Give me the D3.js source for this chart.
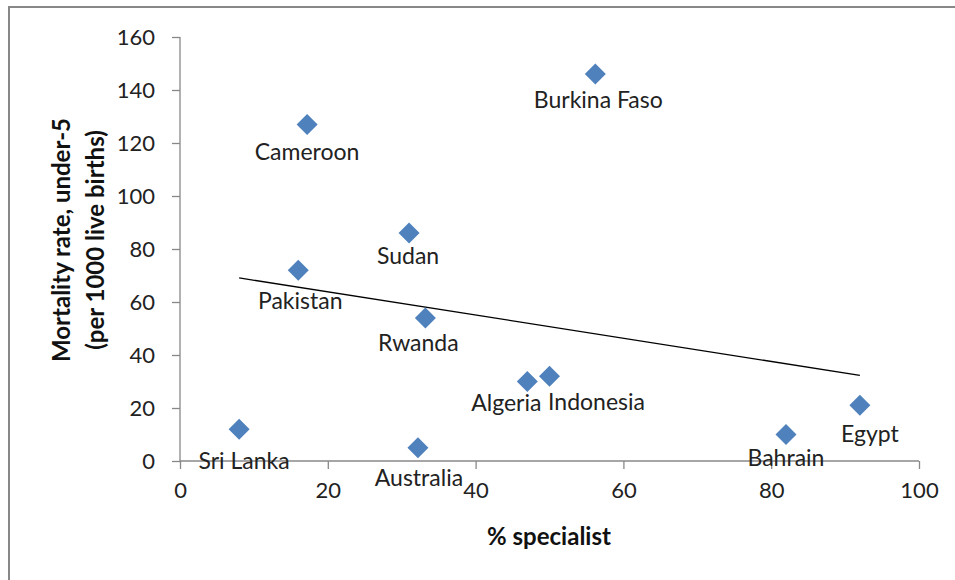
<!DOCTYPE html>
<html><head><meta charset="utf-8">
<script src="https://cdn.jsdelivr.net/npm/d3@7"></script>
<style>body{margin:0;background:#fff}svg{display:block}</style>
</head><body><svg id="c" width="955" height="580"></svg>
<script>
const countries = ["Sri Lanka","Pakistan","Cameroon","Sudan","Rwanda","Australia","Algeria","Indonesia","Burkina Faso","Bahrain","Egypt"];
const specialist = [8,16,17.2,31,33.2,32.2,47,50,56.2,82,92];
const mortality = [12,72,127,86,54,5,30,32,146,10,21];
const labelDx = [5,2,0,-1,-7,1,-21,47,3,0,10];
const labelDy = [32,31,27,23,25,30,21,26,26,23,29];
const xTicks = [0,20,40,60,80,100];
const yTicks = [0,20,40,60,80,100,120,140,160];

const svg = d3.select("#c");
const font = "Lato, 'Open Sans', sans-serif";
svg.append("rect").attr("x",9).attr("y",7).attr("width",960).attr("height",590)
  .attr("fill","#fff").attr("stroke","#888").attr("stroke-width",2);

const x = d3.scaleLinear().domain([0,100]).range([180,919]);
const y = d3.scaleLinear().domain([0,160]).range([461,37]);

const xa = svg.append("g").attr("transform","translate(0,461)")
  .call(d3.axisBottom(x).tickValues(xTicks).tickSize(8).tickPadding(13));
const ya = svg.append("g").attr("transform","translate(180,0)")
  .call(d3.axisLeft(y).tickValues(yTicks).tickSize(8).tickPadding(17));
[xa,ya].forEach(a=>{
  a.select(".domain").attr("stroke","#888").attr("stroke-width",1.3);
  a.selectAll(".tick line").attr("stroke","#888").attr("stroke-width",1.3);
  a.selectAll("text").attr("font-family",font).attr("font-size",22).attr("fill","#222");
});
ya.select(".domain").attr("d","M0,37V461");
xa.select(".domain").attr("d","M180,0H919");

// regression trend line computed from the data
const n = specialist.length;
const mx = d3.mean(specialist), my = d3.mean(mortality);
let sxy=0,sxx=0;
for(let i=0;i<n;i++){sxy+=(specialist[i]-mx)*(mortality[i]-my);sxx+=(specialist[i]-mx)**2;}
const b = sxy/sxx, a0 = my-b*mx;
const x0 = d3.min(specialist), x1 = d3.max(specialist);
svg.append("line").attr("x1",x(x0)).attr("y1",y(a0+b*x0)).attr("x2",x(x1)).attr("y2",y(a0+b*x1))
  .attr("stroke","#000").attr("stroke-width",1.3);

const g = svg.append("g");
countries.forEach((c,i)=>{
  const px=x(specialist[i]), py=y(mortality[i]);
  g.append("path").attr("d",`M${px},${py-10.5}L${px+10.5},${py}L${px},${py+10.5}L${px-10.5},${py}Z`)
    .attr("fill","#4F81BD");
});
countries.forEach((c,i)=>{
  const px=x(specialist[i]), py=y(mortality[i]);
  svg.append("text").attr("x",px+labelDx[i]).attr("y",py+labelDy[i]).attr("dy","0.35em")
    .attr("text-anchor","middle").attr("font-family",font).attr("font-size",23).attr("fill","#222").text(c);
});

svg.append("text").attr("x",549).attr("y",537).attr("dy","0.35em").attr("text-anchor","middle")
  .attr("font-family",font).attr("font-size",24).attr("font-weight","bold").attr("fill","#111").text("% specialist");
const yt = svg.append("text").attr("transform","translate(62,240) rotate(-90)").attr("text-anchor","middle")
  .attr("font-family",font).attr("font-size",24).attr("font-weight","bold").attr("fill","#111");
yt.append("tspan").attr("x",0).attr("dy","0.35em").text("Mortality rate, under-5");
yt.append("tspan").attr("x",0).attr("dy","1.4em").text("(per 1000 live births)");
</script></body></html>
